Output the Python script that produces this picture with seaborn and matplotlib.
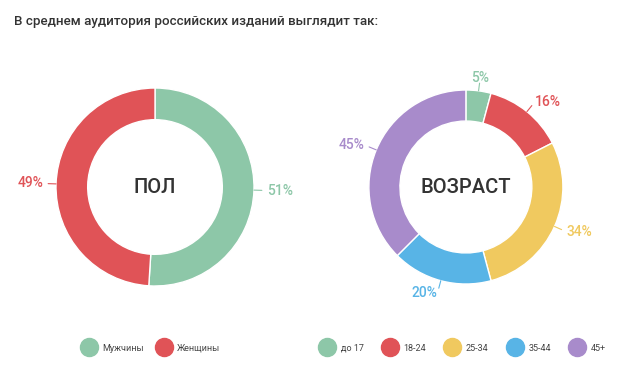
import numpy as np
import matplotlib
matplotlib.use("Agg")
import matplotlib.pyplot as plt
from matplotlib.lines import Line2D
import seaborn as sns

title = "В среднем аудитория российских изданий выглядит так:"

gender_labels = ["Мужчины", "Женщины"]
gender_values = [51, 49]
gender_colors = ["#8dc7a8", "#e05357"]

age_labels = ["до 17", "18-24", "25-34", "35-44", "45+"]
age_values = [5, 16, 34, 20, 45]
age_colors = ["#8dc7a8", "#e05357", "#f0c95f", "#58b4e6", "#a88bcb"]

sns.set_theme(style="white")
plt.rcParams["font.family"] = ["Roboto", "DejaVu Sans"]

fig = plt.figure(figsize=(6.2, 3.82), dpi=100)
fig.patch.set_facecolor("white")


def donut(rect, values, colors, center_text):
    ax = fig.add_axes(rect)
    wedges, _ = ax.pie(values, colors=colors, startangle=90, counterclock=False,
                       radius=1.0, wedgeprops=dict(width=0.32, edgecolor="white", linewidth=1))
    ax.set_xlim(-1, 1)
    ax.set_ylim(-1, 1)
    ax.set_aspect("equal")
    ax.axis("off")
    ax.text(0, 0, center_text, ha="center", va="center", fontsize=14.5,
            color="#333333", fontweight="medium")
    for w, v, c in zip(wedges, values, colors):
        ang = np.deg2rad((w.theta1 + w.theta2) / 2)
        x, y = np.cos(ang), np.sin(ang)
        if abs(x) < 0.2:
            ha = "center"
        elif x > 0:
            ha = "left"
        else:
            ha = "right"
        ax.plot([x * 1.0, x * 1.08], [y * 1.0, y * 1.08], color=c, lw=0.8, clip_on=False)
        ax.text(x * 1.13, y * 1.13, f"{v}%", ha=ha, va="center", fontsize=10,
                color=c, fontweight="medium")
    return ax


donut([0.0903, 0.2513, 0.3194, 0.5183], gender_values, gender_colors, "ПОЛ")
donut([0.595, 0.2565, 0.3129, 0.5079], age_values, age_colors, "ВОЗРАСТ")

fig.text(0.022, 0.945, title, ha="left", va="center", fontsize=9.6,
         color="#333333", fontweight="medium")


def legend(labels, colors, xc, spacing):
    handles = [Line2D([], [], marker="o", ls="", markersize=13, color=c) for c in colors]
    fig.legend(handles, labels, loc="center", bbox_to_anchor=(xc, 0.089), ncol=len(labels),
               frameon=False, fontsize=6.5, handletextpad=0.9, columnspacing=spacing,
               labelcolor="#444444", handlelength=1.2)


legend(gender_labels, gender_colors, 0.245, 1.6)
legend(age_labels, age_colors, 0.748, 2.3)

fig.savefig("out.png", dpi=100, facecolor="white")
